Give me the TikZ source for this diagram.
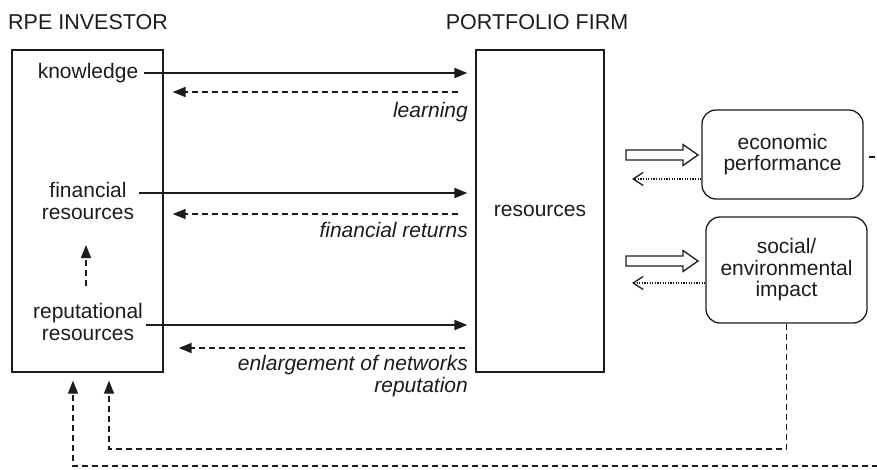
\documentclass[tikz,border=0pt]{standalone}
\usepackage{fontspec}
\setmainfont{Liberation Sans}
\usetikzlibrary{arrows.meta,calc}
\definecolor{ink}{RGB}{30,27,28}
\tikzset{
  txt/.style={font=\fontsize{21}{22.5}\selectfont, text=ink, inner sep=0pt, align=center},
  hdr/.style={font=\fontsize{21.5}{23}\selectfont, text=ink, inner sep=0pt},
  lbl/.style={font=\fontsize{21}{21.5}\selectfont\itshape, text=ink, inner sep=0pt, align=right, anchor=east},
  bigbox/.style={draw=ink, line width=1.3pt, minimum width=151pt, minimum height=322pt, inner sep=0pt},
  roundbox/.style={draw=ink, line width=1.3pt, rounded corners=14pt, inner sep=0pt, align=center,
     font=\fontsize{21}{21.5}\selectfont, text=ink},
  solidarrow/.style={draw=ink, line width=2pt, -{Triangle[length=13pt,width=10pt]}},
  dasharrow/.style={draw=ink, line width=1.6pt, dash pattern=on 6pt off 4pt, -{Triangle[length=13pt,width=10pt]}},
  dotarrow/.style={draw=ink, line width=1.3pt, dash pattern=on 1.2pt off 1.4pt, -{Straight Barb[length=10pt,width=13pt,line width=1.3pt]}},
  loopdash/.style={draw=ink, line width=1.3pt, dash pattern=on 6pt off 4pt},
  looparrow/.style={loopdash, -{Triangle[length=13pt,width=10pt]}},
  hollowarrow/.pic={\draw[ink, line width=1.3pt, line join=miter] (0,-5) -- (57,-5) -- (57,-10.5) -- (72,0) -- (57,10.5) -- (57,5) -- (0,5) -- cycle;}
}
\begin{document}
\begin{tikzpicture}[x=1pt,y=-1pt]
\useasboundingbox (0,0) rectangle (877,469);
\clip (0,0) rectangle (877,469);

% headers
\node[hdr, anchor=west] (h1) at (8,22) {RPE INVESTOR};
\node[hdr] (h2) at (537,22) {PORTFOLIO FIRM};

% boxes
\node[bigbox] (inv) at (87.5,211) {};
\node[bigbox, minimum width=128pt, txt] (pf) at (540,211) {resources};
\node[roundbox, minimum width=161pt, minimum height=89pt] (eco) at (782.5,154.5) {economic\\performance};
\node[roundbox, minimum width=161pt, minimum height=106pt] (soc) at (786.5,270) {social/\\environmental\\impact};

% investor texts
\node[txt] (kn) at (88,73) {knowledge};
\node[txt] (fin) at (88,201) {financial\\resources};
\node[txt] (rep) at (88,322) {reputational\\resources};

% solid arrows
\draw[solidarrow, shorten <=6pt, shorten >=8pt] (kn.east) -- (kn.east -| pf.west);
\draw[solidarrow, shorten <=5pt, shorten >=8pt] ([yshift=8pt]fin.east) -- ([yshift=8pt]fin.east -| pf.west);
\draw[solidarrow, shorten <=3pt, shorten >=8pt] ([yshift=-3pt]rep.east) -- ([yshift=-3pt]rep.east -| pf.west);

% return dashed arrows
\coordinate (r1) at (476,92);
\coordinate (r2) at (476,214);
\coordinate (r3) at (476,348);
\draw[dasharrow, shorten <=18pt, shorten >=9pt] (r1) -- (r1 -| inv.east);
\draw[dasharrow, shorten <=18pt, shorten >=9pt] (r2) -- (r2 -| inv.east);
\draw[dasharrow, shorten <=11pt, shorten >=15pt] (r3) -- (r3 -| inv.east);

% labels
\node[lbl] (l1) at (468,112) {learning};
\node[lbl] (l2) at (468,230) {financial returns};
\node[lbl] (l3) at (468,376) {enlargement of networks\\reputation};

% internal up arrow
\coordinate (u1) at (86,286);
\coordinate (u2) at (86,245);
\draw[dasharrow] (u1) -- (u2);

% hollow arrows
\pic at (626,155) {hollowarrow};
\pic at (626,261) {hollowarrow};

% dotted feedback arrows
\draw[dotarrow] (eco.west |- 0,179) -- (632,179);
\draw[dotarrow] (soc.west |- 0,283) -- (632,283);

% bottom loops
\coordinate (c1) at (109,449);
\coordinate (c2) at (73,466);
\draw[looparrow, shorten >=8pt] (soc.south) |- (c1) -- (c1 |- inv.south);
\draw[looparrow, shorten >=8pt] ([xshift=5pt,yshift=-2.5pt]eco.east) -- ++(25,0) |- (c2) -- (c2 |- inv.south);
\end{tikzpicture}
\end{document}
